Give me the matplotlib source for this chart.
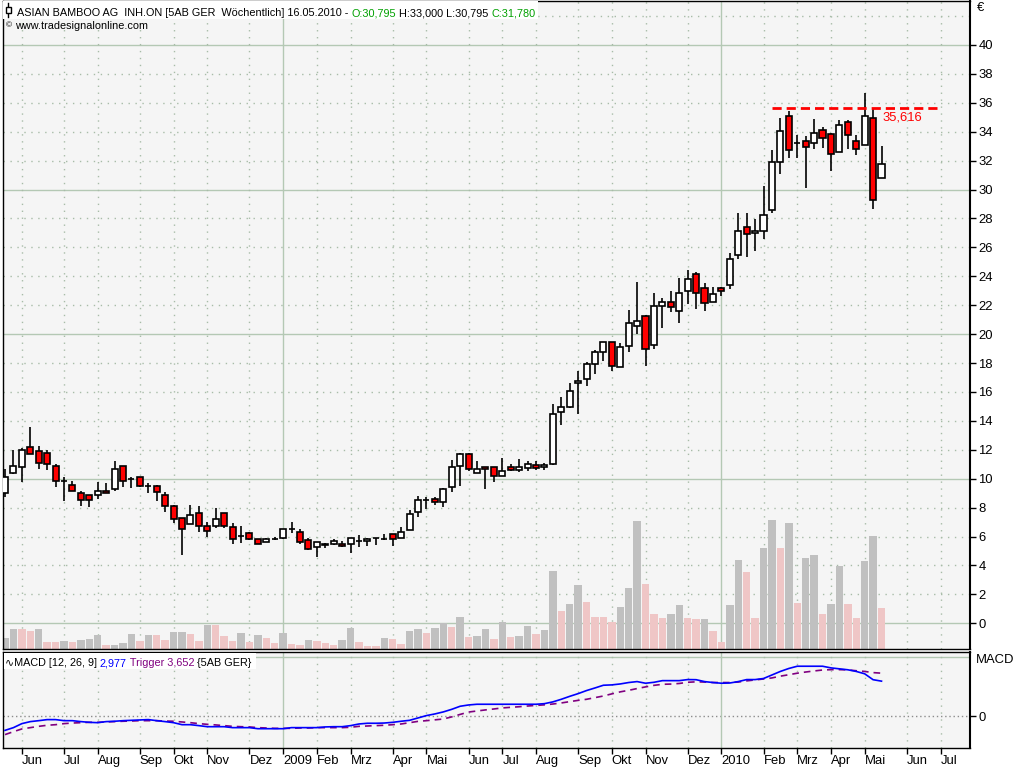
import numpy as np
import matplotlib.pyplot as plt
from matplotlib.patches import Rectangle
from matplotlib.lines import Line2D
from matplotlib.text import Annotation

# Wochenkerzen ASIAN BAMBOO AG (Mai 2008 - Mai 2010)
opens = [9.0, 10.4, 10.8, 12.17, 11.9, 11.76, 10.86, 9.85, 9.54, 9.0,
         8.85, 8.85, 9.13, 9.27, 10.86, 10.0, 10.1, 9.5, 9.47, 8.85,
         8.09, 7.26, 6.85, 7.61, 6.71, 6.71, 7.61, 6.64, 6.06, 6.22,
         5.81, 5.64, 5.82, 5.88, 6.5, 6.29, 5.74, 5.26, 5.43, 5.46,
         5.46, 5.46, 5.67, 5.67, 5.87, 5.86, 6.15, 5.88, 6.43, 7.68,
         8.5, 8.58, 8.37, 9.41, 10.86, 11.69, 10.37, 10.79, 10.79, 10.17,
         10.79, 10.58, 10.72, 10.93, 10.79, 11.0, 14.59, 14.96, 16.62, 16.87,
         17.93, 18.74, 19.43, 17.72, 19.16, 20.54, 21.23, 19.23, 21.92, 22.2,
         21.58, 22.96, 24.14, 23.17, 22.2, 23.17, 23.37, 25.45, 27.39, 26.97,
         27.11, 28.56, 31.93, 35.12, 33.21, 33.39, 33.21, 34.14, 33.86, 32.63,
         34.69, 33.39, 33.11, 34.97, 30.795]
highs = [10.7, 12.0, 12.1, 13.6, 12.26, 12.0, 11.0, 10.14, 9.84, 9.15,
         8.85, 9.77, 9.68, 11.22, 10.86, 10.1, 10.1, 9.68, 9.55, 9.06,
         8.16, 7.3, 8.16, 8.09, 6.98, 7.95, 7.61, 6.92, 6.71, 6.3,
         5.85, 5.9, 6.0, 6.5, 7.0, 6.52, 5.88, 5.65, 5.55, 5.83,
         5.67, 5.9, 6.09, 5.88, 5.9, 6.15, 6.15, 6.64, 7.83, 8.78,
         8.71, 8.71, 9.34, 11.27, 11.75, 11.75, 11.2, 10.8, 10.8, 11.41,
         11.0, 11.34, 11.2, 11.2, 11.07, 15.17, 15.65, 16.62, 17.45, 18.07,
         18.9, 19.45, 19.45, 19.36, 21.65, 23.6, 21.3, 22.84, 22.48, 22.98,
         23.88, 24.43, 24.3, 23.53, 23.26, 23.26, 25.59, 28.35, 28.35, 27.94,
         30.27, 32.71, 34.94, 35.45, 33.79, 33.71, 34.87, 34.3, 33.9, 34.79,
         34.8, 33.74, 36.65, 35.65, 33.0]
lows = [8.7, 10.3, 9.8, 11.7, 10.7, 10.6, 9.45, 8.48, 9.13, 8.13,
        8.06, 8.62, 8.99, 9.13, 9.45, 9.38, 9.4, 9.0, 8.48, 7.68,
        6.96, 4.74, 6.85, 6.34, 6.0, 6.57, 6.57, 5.51, 5.58, 5.74,
        5.45, 5.6, 5.78, 5.85, 6.27, 5.46, 5.1, 4.61, 5.23, 5.4,
        5.26, 4.88, 5.3, 5.37, 5.44, 5.74, 5.37, 5.88, 6.43, 7.37,
        7.93, 8.16, 8.02, 9.06, 9.47, 10.51, 10.37, 9.31, 9.8, 10.17,
        10.51, 10.44, 10.51, 10.58, 10.58, 10.95, 13.71, 14.9, 14.45, 16.43,
        17.24, 18.14, 17.45, 17.72, 18.74, 20.0, 17.77, 18.95, 20.4, 21.51,
        20.75, 22.06, 21.72, 21.58, 22.2, 22.61, 23.1, 25.17, 25.31, 25.73,
        26.55, 28.39, 31.08, 32.18, 32.18, 30.1, 32.78, 32.86, 31.28, 32.6,
        32.83, 32.41, 33.1, 28.67, 30.795]
closes = [10.1, 10.86, 11.96, 11.71, 11.06, 11.0, 9.82, 9.84, 9.13, 8.53,
          8.5, 9.13, 8.99, 10.65, 9.82, 9.97, 9.47, 9.5, 9.06, 8.09,
          7.19, 6.5, 7.47, 6.71, 6.36, 7.19, 6.71, 5.81, 6.06, 5.81,
          5.51, 5.81, 5.85, 6.5, 6.52, 5.6, 5.12, 5.6, 5.45, 5.67,
          5.32, 5.88, 5.67, 5.81, 5.88, 5.85, 5.81, 6.29, 7.54, 8.5,
          8.5, 8.37, 9.27, 10.79, 11.69, 10.65, 10.65, 10.65, 10.17, 10.51,
          10.58, 10.79, 11.0, 10.72, 10.93, 14.47, 14.96, 16.07, 16.76, 17.93,
          18.74, 19.43, 17.77, 19.09, 20.75, 20.88, 18.95, 21.92, 22.2, 21.85,
          22.82, 23.79, 22.82, 22.13, 22.75, 22.96, 25.17, 27.11, 26.9, 27.11,
          28.21, 31.93, 34.07, 32.71, 33.2, 32.94, 33.92, 33.59, 32.48, 34.49,
          33.74, 32.83, 35.12, 29.27, 31.78]

vol_top = [-1.02, -0.39, -0.39, -0.53, -0.39, -1.29, -1.29, -1.22, -1.29, -1.15,
           -1.08, -0.81, -1.5, -1.5, -1.36, -0.74, -1.22, -0.81, -0.81, -1.15,
           -0.6, -0.6, -0.74, -1.22, -0.12, -0.12, -0.88, -1.22, -0.67, -1.29,
           -0.81, -1.02, -1.36, -0.7, -1.43, -1.5, -1.15, -1.22, -1.36, -1.5,
           -1.15, -0.32, -1.29, -1.57, -1.57, -1.02, -1.08, -1.43, -0.53, -0.39,
           -0.67, -0.32, 0.02, -0.25, 0.44, -0.95, -0.88, -0.39, -1.08, 0.09,
           -0.95, -0.88, -0.18, -0.74, -0.46, 3.62, 0.85, 1.34, 2.65, 1.47,
           0.44, 0.44, 0.09, 1.13, 2.44, 7.07, 2.72, 0.64, 0.37, 0.64,
           1.27, 0.37, 0.30, 0.30, -0.53, -1.29, 1.27, 4.38, 3.55, 0.37,
           5.2, 7.15, 5.22, 6.94, 1.38, 4.52, 4.73, 0.63, 1.36, 3.97,
           1.36, 0.38, 4.32, 6.06, 1.08]
vol_kind = ("ggppgppgpg" "ggpgggpgpp" "ggppgpppgp" "gppgppgppp" "ggpppgppgg"
            "pggpgpggpg" "pggpggpggp" "pppgggpppg" "gppgppggpp" "ggpgpggpgg"
            "ppggp")

# MACD (12, 26, 9) und Trigger
macd = [-1.19, -0.96, -0.62, -0.45, -0.37, -0.28, -0.28, -0.37, -0.37, -0.45,
        -0.51, -0.54, -0.45, -0.42, -0.37, -0.34, -0.31, -0.28, -0.37, -0.45,
        -0.54, -0.71, -0.71, -0.79, -0.88, -0.88, -0.88, -0.96, -0.96, -0.96,
        -1.05, -1.05, -1.05, -1.05, -0.96, -0.96, -0.96, -0.96, -0.9, -0.88,
        -0.88, -0.79, -0.65, -0.59, -0.59, -0.57, -0.51, -0.42, -0.34, -0.14,
        0.06, 0.2, 0.37, 0.59, 0.85, 0.96, 1.02, 1.02, 1.02, 1.02,
        1.02, 1.02, 1.02, 1.02, 1.07, 1.22, 1.44, 1.69, 1.92, 2.18,
        2.4, 2.63, 2.66, 2.74, 2.86, 2.94, 2.8, 2.88, 3.02, 3.02,
        3.02, 3.11, 3.1, 2.94, 2.86, 2.8, 2.82, 2.94, 3.11, 3.11,
        3.2, 3.5, 3.8, 4.05, 4.24, 4.24, 4.24, 4.24, 4.1, 4.02,
        3.94, 3.8, 3.6, 3.1, 2.977]
trigger = [-1.55, -1.3, -1.07, -0.96, -0.85, -0.76, -0.71, -0.62, -0.57, -0.54,
           -0.51, -0.51, -0.48, -0.45, -0.42, -0.4, -0.37, -0.37, -0.37, -0.4,
           -0.42, -0.48, -0.54, -0.62, -0.68, -0.73, -0.79, -0.85, -0.88, -0.9,
           -0.96, -0.99, -1.02, -1.02, -1.02, -0.99, -0.99, -0.96, -0.96, -0.96,
           -0.96, -0.93, -0.85, -0.82, -0.79, -0.76, -0.71, -0.65, -0.54, -0.43,
           -0.37, -0.3, -0.23, -0.05, 0.16, 0.36, 0.45, 0.54, 0.62, 0.71,
           0.76, 0.81, 0.87, 0.92, 0.97, 1.04, 1.13, 1.24, 1.35, 1.44,
           1.58, 1.72, 1.9, 2.07, 2.2, 2.35, 2.49, 2.62, 2.71, 2.73,
           2.78, 2.88, 2.92, 2.9, 2.86, 2.86, 2.86, 2.9, 3.0, 3.08,
           3.16, 3.25, 3.4, 3.52, 3.65, 3.75, 3.84, 3.92, 3.95, 3.95,
           3.93, 3.86, 3.8, 3.7, 3.652]

# Monatsachse (Index der ersten Woche im Monat)
month_pos = [2, 7, 11, 16, 20, 24, 29, 33, 37, 41, 46, 50, 55, 59, 63, 68,
             72, 76, 81, 85, 90, 94, 98, 102, 107, 111]
month_lbl = ["Jun", "Jul", "Aug", "Sep", "Okt", "Nov", "Dez", "2009", "Feb",
             "Mrz", "Apr", "Mai", "Jun", "Jul", "Aug", "Sep", "Okt", "Nov",
             "Dez", "2010", "Feb", "Mrz", "Apr", "Mai", "Jun", "Jul"]
year_pos = [33, 85]

resist = 35.616
resist_from, resist_to = 91, 111

NARROW = ['Liberation Sans Narrow', 'Liberation Sans', 'DejaVu Sans']
SANS = ['Liberation Sans', 'DejaVu Sans']
BG = '#f5f5f5'
GRID_SOLID = '#b4c8b4'
GRID_DOT = '#a8bca8'
FS = 7.8

W, H = 1024, 768
fig = plt.figure(figsize=(W / 100, H / 100), dpi=100)


def px(x, y):
    return x / W, 1 - y / H


def chain_text(first, parts):
    # haengt farbige Textstuecke direkt hinter das erste an
    prev = first
    for s, col in parts:
        a = Annotation(s, xy=(1, 0), xycoords=prev, fontsize=FS, family=SANS,
                       color=col, ha='left', va='bottom', zorder=9)
        fig.add_artist(a)
        prev = a


x = np.arange(len(closes))
o = np.array(opens)
c = np.array(closes)
floor = -1.76

# Hauptfenster
ax = fig.add_axes([3 / W, 1 - 648.7 / H, 967 / W, 647.7 / H])
ax.set_facecolor(BG)
ax.set_xlim(-0.24, 114.5)
ax.set_ylim(floor, 43.04)

for lev in range(0, 43, 2):
    if lev % 10 == 0:
        ax.axhline(lev, color=GRID_SOLID, lw=1, zorder=1)
    else:
        ax.axhline(lev, color=GRID_DOT, lw=1, ls=(0, (1, 4)), zorder=1)
for m in month_pos:
    if m in year_pos:
        ax.axvline(m, color=GRID_SOLID, lw=1, zorder=1)
    else:
        ax.axvline(m, color=GRID_DOT, lw=1, ls=(0, (1, 4)), zorder=1)

vcol = ['#c0c0c0' if k == 'g' else '#efc6c6' for k in vol_kind]
ax.bar(x, np.array(vol_top) - floor, bottom=floor, width=0.88,
       color=vcol, linewidth=0, zorder=2)

ax.vlines(x, lows, highs, color='black', lw=1.2, zorder=3)
ccol = np.where(c >= o, 'white', '#ff0000')
ax.bar(x, c - o, bottom=o, width=0.72, color=ccol, edgecolor='black',
       linewidth=1.2, zorder=4)

ax.plot([resist_from, resist_to], [resist, resist], color='#ff0000', lw=2.0,
        ls=(0, (3.3, 1.8)), zorder=5)
ax.text(104.1, resist - 0.25, "35,616", color='#ff0000',
        fontsize=9.4, family=NARROW, va='top', ha='left', zorder=6)

ax.yaxis.tick_right()
ax.set_yticks(range(0, 41, 2))
ax.tick_params(axis='y', direction='out', length=4, width=1, pad=2,
               labelsize=9.4)
for lab in ax.get_yticklabels():
    lab.set_family(NARROW)
ax.set_xticks([])
for sp in ax.spines.values():
    sp.set_color('black')
    sp.set_linewidth(1)
ax.spines['right'].set_linewidth(1.5)

# MACD-Fenster
ax2 = fig.add_axes([3 / W, 1 - 748.3 / H, 967 / W, 96 / H])
ax2.set_facecolor(BG)
ax2.set_xlim(-0.24, 114.5)
ax2.set_ylim(-2.71, 5.42)
ax2.axhline(5, color=GRID_SOLID, lw=1, zorder=1)
ax2.axhline(0, color='#8c8c8c', lw=1, ls=(0, (1, 2)), zorder=1)
for m in month_pos:
    if m in year_pos:
        ax2.axvline(m, color=GRID_SOLID, lw=1, zorder=1)
    else:
        ax2.axvline(m, color=GRID_DOT, lw=1, ls=(0, (1, 4)), zorder=1)
ax2.plot(x, trigger, color='#800080', lw=1.2, ls=(0, (4, 3)), zorder=3)
ax2.plot(x, macd, color='#0000ff', lw=1.2, zorder=4)

ax2.yaxis.tick_right()
ax2.set_yticks([0])
ax2.tick_params(axis='y', direction='out', length=4, width=1, pad=2,
                labelsize=9.4)
ax2.set_xticks(month_pos)
ax2.set_xticklabels(month_lbl)
ax2.tick_params(axis='x', direction='out', length=4, width=1, pad=1,
                labelsize=9.4)
for lab in ax2.get_xticklabels():
    lab.set_family(NARROW)
    lab.set_horizontalalignment('left')
for lab in ax2.get_yticklabels():
    lab.set_family(NARROW)
for sp in ax2.spines.values():
    sp.set_color('black')
    sp.set_linewidth(1)
ax2.spines['right'].set_linewidth(1.5)

fig.text(*px(976, 660), "MACD", fontsize=9.4, family=NARROW, va='center')
fig.text(*px(977, 8), "€", fontsize=9.4, family=NARROW, va='center')

# Kopfzeile
fig.add_artist(Rectangle(px(3, 19), 535 / W, 18 / H, transform=fig.transFigure,
                         facecolor='white', edgecolor='none', zorder=7))
fig.add_artist(Line2D([8 / W, 8 / W], [1 - 3 / H, 1 - 17 / H], color='black',
                      lw=1, zorder=8))
fig.add_artist(Rectangle(px(5.5, 13), 5 / W, 6 / H, transform=fig.transFigure,
                         facecolor='white', edgecolor='black', lw=1, zorder=8))

title_first = fig.text(*px(17, 16), "ASIAN BAMBOO AG  INH.ON [5AB GER  Wöchentlich] 16.05.2010 - ",
                       fontsize=FS, family=SANS, ha='left', va='baseline', zorder=9)
chain_text(title_first, [("O:30,795", '#00a000'),
                         (" H:33,000 L:30,795 ", 'black'),
                         ("C:31,780", '#00a000')])

fig.text(*px(6, 26), "©", fontsize=6, family=SANS, va='center')
fig.text(*px(15, 26), "www.tradesignalonline.com", fontsize=FS, family=SANS,
         va='center')

# MACD-Legende
fig.add_artist(Rectangle(px(4, 669), 252 / W, 16 / H, transform=fig.transFigure,
                         facecolor='white', edgecolor='none', zorder=7))
macd_first = fig.text(*px(5, 666), "\u223fMACD [12, 26, 9] ", fontsize=FS,
                      family=SANS, color='black', ha='left', va='baseline',
                      zorder=9)
chain_text(macd_first, [("2,977", '#0000ff'), (" Trigger 3,652", '#800080'),
                        (" {5AB GER}", 'black')])

fig.savefig("out.png", dpi=100)
plt.close(fig)
